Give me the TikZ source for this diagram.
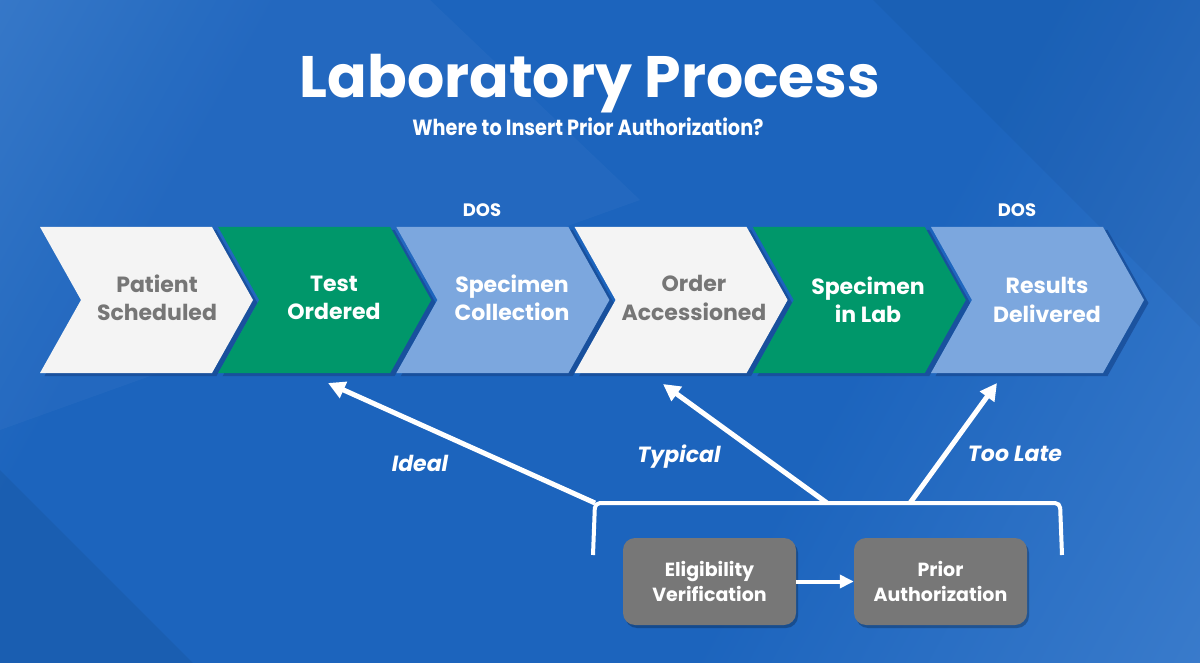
\documentclass[tikz,border=0pt]{standalone}
\usepackage{fontspec}
\setmainfont{Poppins}
\usetikzlibrary{arrows.meta,shadows}
\definecolor{bgA}{HTML}{4A88D4}
\definecolor{bgB}{HTML}{1C64BD}
\definecolor{bgC}{HTML}{4E8BD5}
\definecolor{chevL}{HTML}{F4F4F4}
\definecolor{chevG}{HTML}{00976A}
\definecolor{chevB}{HTML}{7CA7DE}
\definecolor{txtgray}{HTML}{767676}
\definecolor{boxgray}{HTML}{777777}
\definecolor{gapblue}{HTML}{174A93}
\pgfdeclarehorizontalshading{bgsh}{100bp}{color(0bp)=(bgA); color(28bp)=(bgB); color(62bp)=(bgB); color(100bp)=(bgC)}
\tikzset{
  chevtxt/.style={font=\fontsize{22}{28.3}\selectfont\bfseries, align=center, inner sep=0pt},
  dostxt/.style={font=\fontsize{18}{20}\selectfont\bfseries, text=white, inner sep=0pt},
  lbltxt/.style={font=\fontsize{22}{24}\selectfont\bfseries\itshape, text=white, inner sep=0pt, anchor=base},
  boxnode/.style={fill=boxgray, rounded corners=12pt, minimum width=173pt, minimum height=87pt,
     text=white, align=center, font=\fontsize{19}{25}\selectfont\bfseries, inner sep=0pt,
     drop shadow={shadow xshift=2pt, shadow yshift=-3pt, opacity=0.25, fill=black}},
  whitearrow/.style={draw=white, line width=5pt, -{Triangle[length=17pt,width=17pt]}},
  boxarrow/.style={draw=white, line width=4pt, -{Triangle[length=14pt,width=13pt]}},
  bracketline/.style={draw=white, line width=4pt, rounded corners=5pt}
}
\newcommand\chevshape[1]{(#1,227) -- ++(172,0) -- ++(41,73) -- ++(-41,73) -- ++(-172,0) -- ++(41,-73) -- cycle}
\begin{document}
\begin{tikzpicture}[x=1pt,y=-1pt]
\useasboundingbox (0,0) rectangle (1200,663);
% background
\shade[shading=bgsh, shading angle=-29] (0,0) rectangle (1200,663);
\fill[black, opacity=0.06] (0,470) -- (193,663) -- (0,663) -- cycle;
\fill[black, opacity=0.04] (873,0) -- (1200,0) -- (1200,327) -- cycle;
\fill[white, opacity=0.03] (0,0) -- (430,0) -- (640,200) -- (0,430) -- cycle;
% chevron row
\foreach \i/\c in {0/chevL,1/chevG,2/chevB,3/chevL,4/chevG,5/chevB}{
  \pgfmathsetmacro\xo{40+178.2*\i}
  \fill[gapblue, opacity=0.75, xshift=4.5pt, yshift=-3pt] \chevshape{\xo};
  \fill[\c] \chevshape{\xo};
}
\node[chevtxt, text=txtgray] (c1) at (157,298) {Patient\\Scheduled};
\node[chevtxt, text=white] (c2) at (334,298) {Test\\Ordered};
\node[chevtxt, text=white] (c3) at (512,298) {Specimen\\Collection};
\node[chevtxt, text=txtgray] (c4) at (694,298) {Order\\Accessioned};
\node[chevtxt, text=white] (c5) at (868,300) {Specimen\\in Lab};
\node[chevtxt, text=white] (c6) at (1047,300) {Results\\Delivered};
% DOS labels
\node[dostxt] (dos1) at (482,210) {DOS};
\node[dostxt] (dos2) at (1017,210) {DOS};
% title
\node[font=\fontsize{58.5}{62}\selectfont\bfseries, text=white, inner sep=0pt, anchor=base] (title) at (590,98) {Laboratory Process};
\node[font=\fontsize{22}{24}\selectfont\bfseries, text=white, inner sep=0pt, anchor=base] (subtitle) at (588,136) {\scalebox{0.875}[1]{Where to Insert Prior Authorization?}};
% bracket and arrows
\coordinate (bL) at (595,503);
\coordinate (bT) at (827,503);
\coordinate (bR) at (910,503);
\coordinate (tIdeal) at (328,383);
\coordinate (tTyp) at (663,384);
\coordinate (tLate) at (997,383);
\draw[bracketline] (593,555) -- (595,503) -- (1060,503) -- (1062,555);
\draw[whitearrow] (bL) -- (tIdeal);
\draw[whitearrow] (bT) -- (tTyp);
\draw[whitearrow] (bR) -- (tLate);
\node[lbltxt] (lIdeal) at (420,471.5) {Ideal};
\node[lbltxt] (lTyp) at (679,462.5) {Typical};
\node[lbltxt] (lLate) at (1015,461.5) {Too Late};
% boxes
\node[boxnode] (elig) at (709.5,581.5) {Eligibility\\Verification};
\node[boxnode] (prior) at (940.5,581.5) {Prior\\Authorization};
\draw[boxarrow] (elig) -- (prior);
\end{tikzpicture}
\end{document}
